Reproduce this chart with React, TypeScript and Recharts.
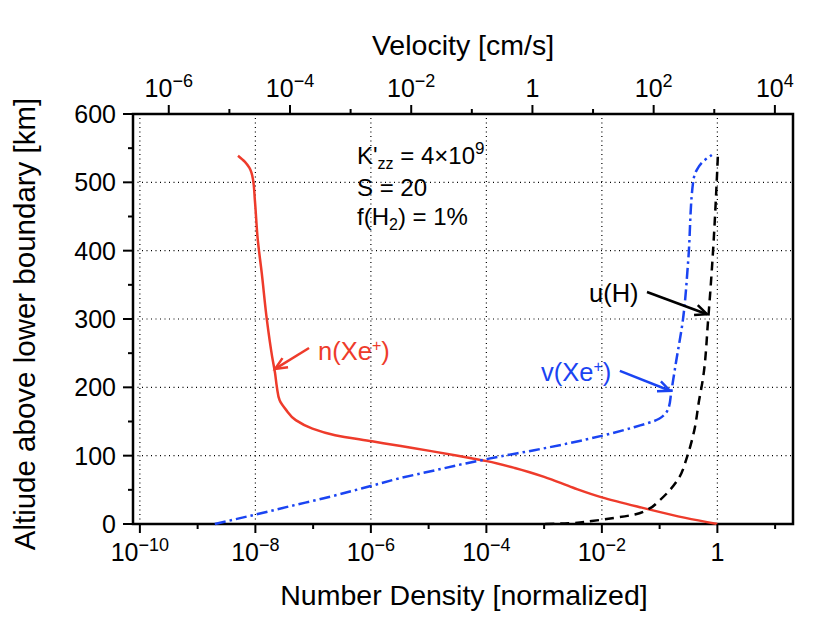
import React from 'react';
import {
  LineChart,
  Line,
  XAxis,
  YAxis,
  ReferenceLine,
  ReferenceArea,
} from 'recharts';

const FONT = '"Liberation Sans", Arial, Helvetica, sans-serif';
const RED = '#ee3b2b';
const BLUE = '#1a44f2';

// n(Xe+) on the bottom axis (normalized number density)
const densityAlt = [0, 9, 24, 39, 53, 69, 82, 92, 100, 107, 114, 121, 130, 140, 152, 167, 181, 200, 221, 245, 299, 367, 416, 474, 504, 521, 530, 539];
const densityVal = [1.0, 0.28, 4.9e-2, 1.0e-2, 3.2e-3, 1.0e-3, 3.1e-4, 1.02e-4, 3.2e-5, 1.05e-5, 3.3e-6, 1.05e-6, 2.4e-7, 9.5e-8, 5.0e-8, 3.4e-8, 2.63e-8, 2.36e-8, 2.19e-8, 1.95e-8, 1.58e-8, 1.29e-8, 1.1e-8, 9.8e-9, 9.1e-9, 7.9e-9, 6.6e-9, 5.0e-9];

// v(Xe+) on the top axis (cm/s)
const ionVelAlt = [0, 14, 26, 40, 56, 67, 78, 89, 99, 108, 118, 129, 142, 154, 171, 193, 237, 297, 386, 500, 518, 530, 540];
const ionVelVal = [5.75e-6, 2.75e-5, 1.0e-4, 4.6e-4, 2.24e-3, 6.5e-3, 2.3e-2, 8.3e-2, 0.3, 1.07, 3.9, 13.8, 49, 123, 178, 195, 234, 302, 372, 447, 513, 646, 912];

// u(H) on the top axis (cm/s)
const hVelAlt = [0, 1, 4.4, 9, 14, 22, 34, 48, 68, 98, 137, 181, 211, 300, 400, 500, 540];
const hVelVal = [1.62, 3.9, 9.5, 23, 49, 83, 123, 178, 263, 355, 468, 562, 646, 794, 955, 1096, 1148];

const bottomTicks = [1e-10, 1e-9, 1e-8, 1e-7, 1e-6, 1e-5, 1e-4, 1e-3, 1e-2, 1e-1, 1, 10];
const topTicks = [1e-6, 1e-5, 1e-4, 1e-3, 1e-2, 1e-1, 1, 10, 100, 1e3, 1e4];
const altTicks = [0, 50, 100, 150, 200, 250, 300, 350, 400, 450, 500, 550, 600];
const gridX = [1e-10, 1e-8, 1e-6, 1e-4, 1e-2, 1];
const gridY = [100, 200, 300, 400, 500];

const BOTTOM_DOMAIN = [7.6e-11, 20.4];
const TOP_DOMAIN = [2.57e-7, 1.99e4];

const densityData = densityAlt.map((alt, i) => ({ alt, val: densityVal[i] }));
const ionVelData = ionVelAlt.map((alt, i) => ({ alt, val: ionVelVal[i] }));
const hVelData = hVelAlt.map((alt, i) => ({ alt, val: hVelVal[i] }));

const PowerLabel = ({ x, y, exp }: { x: number; y: number; exp: number }) => {
  if (exp === 0) {
    return (
      <text x={x} y={y} textAnchor="middle" fontFamily={FONT} fontSize={25} fill="#000">
        1
      </text>
    );
  }
  const s = exp < 0 ? '\u2212' + Math.abs(exp) : String(exp);
  return (
    <text x={x} y={y} textAnchor="middle" fontFamily={FONT} fontSize={25} fill="#000">
      10
      <tspan dy={-10} fontSize={18}>
        {s}
      </tspan>
    </text>
  );
};

const BottomTick = (props: any) => {
  const { x, y, payload } = props;
  const exp = Math.round(Math.log10(payload.value));
  const major = exp % 2 === 0;
  return (
    <g>
      <line x1={x} y1={y} x2={x} y2={y + (major ? 9 : 5)} stroke="#000" strokeWidth={2} />
      {major && <PowerLabel x={x} y={y + 37} exp={exp} />}
    </g>
  );
};

const TopTick = (props: any) => {
  const { x, y, payload } = props;
  const exp = Math.round(Math.log10(payload.value));
  const major = exp % 2 === 0;
  return (
    <g>
      <line x1={x} y1={y} x2={x} y2={y - (major ? 9 : 5)} stroke="#000" strokeWidth={2} />
      {major && <PowerLabel x={x} y={y - 17} exp={exp} />}
    </g>
  );
};

const LeftTick = (props: any) => {
  const { x, y, payload } = props;
  const major = payload.value % 100 === 0;
  return (
    <g>
      <line x1={x} y1={y} x2={x - (major ? 10 : 5)} y2={y} stroke="#000" strokeWidth={2} />
      {major && (
        <text x={x - 17} y={y + 9} textAnchor="end" fontFamily={FONT} fontSize={25} fill="#000">
          {payload.value}
        </text>
      )}
    </g>
  );
};

const arrowShape = (color: string) => (props: any) => {
  const { x1, y1, x2, y2 } = props;
  const ang = Math.atan2(y2 - y1, x2 - x1);
  const L = 13;
  const spread = 0.42;
  const ax = x2 - L * Math.cos(ang - spread);
  const ay = y2 - L * Math.sin(ang - spread);
  const bx = x2 - L * Math.cos(ang + spread);
  const by = y2 - L * Math.sin(ang + spread);
  return (
    <g>
      <line x1={x1} y1={y1} x2={x2} y2={y2} stroke={color} strokeWidth={2.5} />
      <polyline points={`${ax},${ay} ${x2},${y2} ${bx},${by}`} fill="none" stroke={color} strokeWidth={2.5} />
    </g>
  );
};

export default function App() {
  return (
    <LineChart
      width={822}
      height={615}
      layout="vertical"
      margin={{ top: 46, right: 37, bottom: 39, left: 45 }}
    >
      <XAxis
        xAxisId="bottom"
        orientation="bottom"
        type="number"
        scale="log"
        domain={BOTTOM_DOMAIN}
        allowDataOverflow
        ticks={bottomTicks}
        interval={0}
        tickSize={0}
        tickMargin={0}
        tick={<BottomTick />}
        axisLine={false}
        tickLine={false}
        height={60}
      />
      <XAxis
        xAxisId="top"
        orientation="top"
        type="number"
        scale="log"
        domain={TOP_DOMAIN}
        allowDataOverflow
        ticks={topTicks}
        interval={0}
        tickSize={0}
        tickMargin={0}
        tick={<TopTick />}
        axisLine={false}
        tickLine={false}
        height={60}
      />
      <YAxis
        type="number"
        dataKey="alt"
        domain={[0, 600]}
        reversed
        ticks={altTicks}
        interval={0}
        tickSize={0}
        tickMargin={0}
        tick={<LeftTick />}
        axisLine={false}
        tickLine={false}
        width={80}
      />

      {gridX.map((v) => (
        <ReferenceLine key={'gx' + v} xAxisId="bottom" x={v} stroke="#000" strokeWidth={1.2} strokeDasharray="1 3.5" />
      ))}
      {gridY.map((v) => (
        <ReferenceLine key={'gy' + v} xAxisId="bottom" y={v} stroke="#000" strokeWidth={1.2} strokeDasharray="1 3.5" />
      ))}

      <Line
        xAxisId="bottom"
        data={densityData}
        dataKey="val"
        type="monotone"
        stroke={RED}
        strokeWidth={2.5}
        dot={false}
        isAnimationActive={false}
      />
      <Line
        xAxisId="top"
        data={ionVelData}
        dataKey="val"
        type="monotone"
        stroke={BLUE}
        strokeWidth={2.5}
        strokeDasharray="11 4 2.5 4"
        dot={false}
        isAnimationActive={false}
      />
      <Line
        xAxisId="top"
        data={hVelData}
        dataKey="val"
        type="monotone"
        stroke="#000"
        strokeWidth={2.5}
        strokeDasharray="9 6"
        dot={false}
        isAnimationActive={false}
      />

      <ReferenceLine
        xAxisId="top"
        segment={[{ x: 77.6, y: 339.5 }, { x: 760, y: 307 }]}
        shape={arrowShape('#000')}
        ifOverflow="visible"
      />
      <ReferenceLine
        xAxisId="top"
        segment={[{ x: 27.7, y: 224 }, { x: 186, y: 195 }]}
        shape={arrowShape(BLUE)}
        ifOverflow="visible"
      />
      <ReferenceLine
        xAxisId="bottom"
        segment={[{ x: 8.5e-8, y: 257.6 }, { x: 2.2e-8, y: 227 }]}
        shape={arrowShape(RED)}
        ifOverflow="visible"
      />

      <ReferenceArea
        xAxisId="bottom"
        x1={BOTTOM_DOMAIN[0]}
        x2={BOTTOM_DOMAIN[1]}
        y1={0}
        y2={600}
        fill="none"
        fillOpacity={0}
        stroke="#000"
        strokeWidth={2.5}
        ifOverflow="visible"
      />

      <text x={455} y={47} textAnchor="middle" fontFamily={FONT} fontSize={28.5} fill="#000">
        Velocity [cm/s]
      </text>
      <text x={456} y={597} textAnchor="middle" fontFamily={FONT} fontSize={28.5} fill="#000">
        Number Density [normalized]
      </text>
      <text
        x={27}
        y={316}
        textAnchor="middle"
        fontFamily={FONT}
        fontSize={29.5}
        fill="#000"
        transform="rotate(-90, 27, 316)"
      >
        Altiude above lower boundary [km]
      </text>

      <text x={349} y={156} fontFamily={FONT} fontSize={24} fill="#000">
        K'
        <tspan dy={5} fontSize={16}>zz</tspan>
        <tspan dy={-5}> = 4×10</tspan>
        <tspan dy={-10} fontSize={17}>9</tspan>
      </text>
      <text x={349} y={188} fontFamily={FONT} fontSize={24} fill="#000">
        S = 20
      </text>
      <text x={349} y={217} fontFamily={FONT} fontSize={24} fill="#000">
        f(H
        <tspan dy={5} fontSize={16}>2</tspan>
        <tspan dy={-5}>) = 1%</tspan>
      </text>

      <text x={581} y={294} fontFamily={FONT} fontSize={25.5} fill="#000">
        u(H)
      </text>
      <text x={533} y={373} fontFamily={FONT} fontSize={25.5} fill={BLUE}>
        v(Xe
        <tspan dy={-9} fontSize={16}>+</tspan>
        <tspan dy={9}>)</tspan>
      </text>
      <text x={310} y={352} fontFamily={FONT} fontSize={25.5} fill={RED}>
        n(Xe
        <tspan dy={-9} fontSize={16}>+</tspan>
        <tspan dy={9}>)</tspan>
      </text>
    </LineChart>
  );
}
